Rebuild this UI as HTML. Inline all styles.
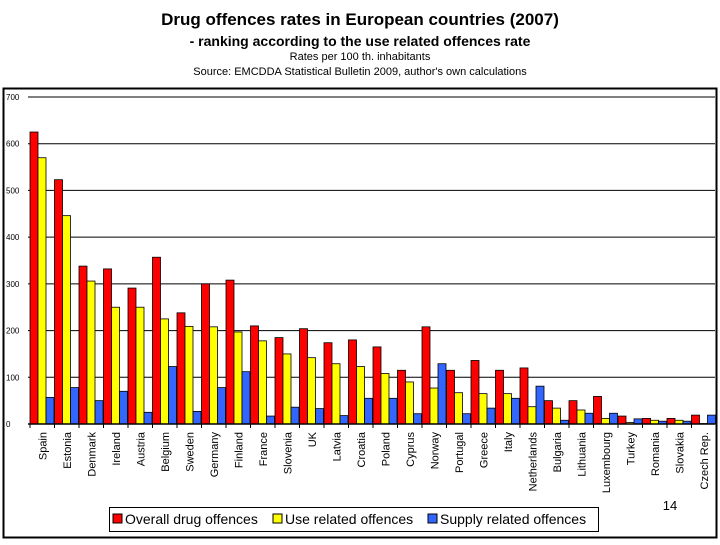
<!DOCTYPE html>
<html><head><meta charset="utf-8"><style>
body{margin:0;background:#fff;width:720px;height:540px;overflow:hidden;font-family:"Liberation Sans",sans-serif}
</style></head><body>
<svg width="720" height="540" xmlns="http://www.w3.org/2000/svg">
<text x="360" y="25" text-anchor="middle" font-size="17" font-weight="bold" font-family="Liberation Sans">Drug offences rates in European countries (2007)</text>
<text x="360" y="46" text-anchor="middle" font-size="14" font-weight="bold" font-family="Liberation Sans">- ranking according to the use related offences rate</text>
<text x="360" y="60" text-anchor="middle" font-size="11" font-family="Liberation Sans">Rates per 100 th. inhabitants</text>
<text x="360" y="75" text-anchor="middle" font-size="11" font-family="Liberation Sans">Source: EMCDDA Statistical Bulletin 2009, author's own calculations</text>
<rect x="3.5" y="88.5" width="713" height="449" fill="none" stroke="#000" stroke-width="2"/>
<g id="grid"></g>
<g id="bars"></g>
<g id="labels"></g>
<text x="670" y="510" text-anchor="middle" font-size="13" font-family="Liberation Sans">14</text>
<g>
<rect x="109.5" y="507.5" width="489" height="24" fill="#fff" stroke="#000"/>
<rect x="113" y="514" width="9" height="9" fill="#f00" stroke="#000"/>
<text x="125" y="524" font-size="14" font-family="Liberation Sans">Overall drug offences</text>
<rect x="273" y="514" width="9" height="9" fill="#ff0" stroke="#000"/>
<text x="285" y="524" font-size="14" font-family="Liberation Sans">Use related offences</text>
<rect x="428" y="514" width="9" height="9" fill="#36f" stroke="#000"/>
<text x="440" y="524" font-size="14" font-family="Liberation Sans">Supply related offences</text>
</g>
</svg>
<script>
const categories=["Spain","Estonia","Denmark","Ireland","Austria","Belgium","Sweden","Germany","Finland","France","Slovenia","UK","Latvia","Croatia","Poland","Cyprus","Norway","Portugal","Greece","Italy","Netherlands","Bulgaria","Lithuania","Luxembourg","Turkey","Romania","Slovakia","Czech Rep."];
const overall=[625,523,338,332,291,357,238,300,308,210,185,204,174,180,165,115,208,115,136,115,120,50,50,59,17,12,12,19];
const useRel=[570,446,306,250,250,225,209,208,197,178,150,142,129,123,108,90,77,67,65,65,37,34,30,12,3,8,8,1];
const supply=[57,78,50,70,25,123,27,78,112,17,36,33,18,55,55,22,129,22,34,55,81,8,23,23,11,6,6,19];
const ticks=[0,100,200,300,400,500,600,700];
const NS="http://www.w3.org/2000/svg";
const y0=424,y1=97,vmax=700,x0=30,gw=24.5,bw=8;
const yS=v=>y0-(v/vmax)*(y0-y1);
const xS=i=>x0+i*gw;
function mk(t,a){const e=document.createElementNS(NS,t);for(const k in a)e.setAttribute(k,a[k]);return e;}
const grid=document.getElementById('grid');
ticks.forEach(t=>{
 const l=mk('line',{x1:28,x2:715,y1:yS(t),y2:yS(t),stroke:'#000','stroke-width':1});
 
 
 grid.appendChild(l);
 const tx=mk('text',{x:6,y:yS(t)+3,'font-size':8,'font-family':'Liberation Sans'});
 tx.textContent=t;
 
 
 grid.appendChild(tx);
});
const bars=document.getElementById('bars');
const series=[[overall,'#f00','overall'],[useRel,'#ff0','use'],[supply,'#36f','supply']];
categories.forEach((c,i)=>{
 series.forEach((s,j)=>{
  const v=s[0][i];
  const r=mk('rect',{x:xS(i)+j*bw,y:yS(v),width:bw,height:y0-yS(v),fill:s[1],stroke:'#000','stroke-width':0.8});
  
  
  bars.appendChild(r);
 });
 const tk=mk('line',{x1:xS(i),x2:xS(i),y1:y0,y2:y0+4,stroke:'#000'});
 
 
 bars.appendChild(tk);
});
const ax=mk('line',{x1:28,x2:715,y1:y0,y2:y0,stroke:'#000','stroke-width':1.5});


bars.appendChild(ax);
const lab=document.getElementById('labels');
categories.forEach((c,i)=>{
 const cx=xS(i)+gw/2+4;
 const t=mk('text',{x:0,y:0,'font-size':11,'font-family':'Liberation Sans','text-anchor':'end',transform:'translate('+cx+',432) rotate(-90)'});
 t.textContent=c;
 
 
 lab.appendChild(t);
});
</script>
</body></html>
